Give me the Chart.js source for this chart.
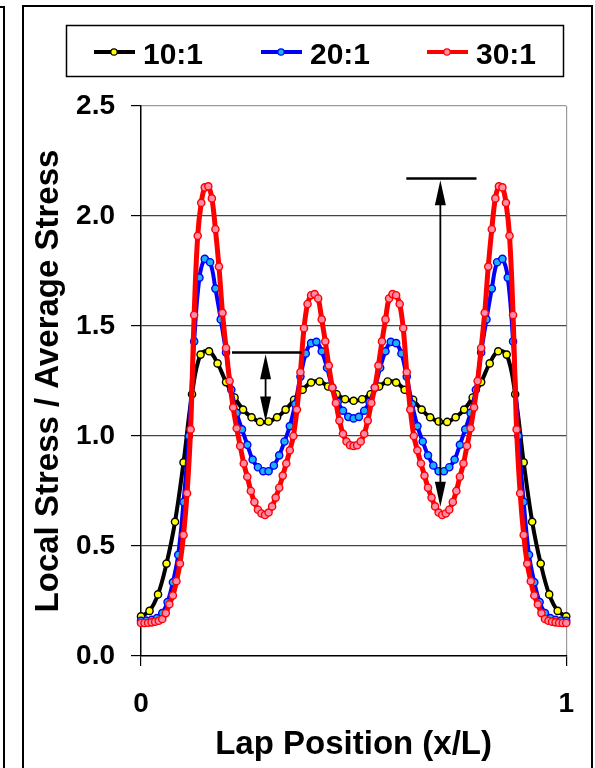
<!DOCTYPE html>
<html>
<head>
<meta charset="utf-8">
<title>Local Stress / Average Stress</title>
<script src="https://cdn.jsdelivr.net/npm/chart.js@4.4.1/dist/chart.umd.min.js"></script>
<style>
  html, body { margin: 0; padding: 0; background: #fff; }
  #wrap { position: relative; width: 595px; height: 768px; }
</style>
</head>
<body>
<div id="wrap"><canvas id="stressChart" width="595" height="768"></canvas></div>
<script>
// Series labels
const seriesLabels = ['10:1', '20:1', '30:1'];

// 10:1 overlap ratio, 51 evenly spaced points over x/L = 0..1
const ratio10 = [
    0.180, 0.205, 0.280, 0.420, 0.610, 0.880, 1.190, 1.370, 1.385, 1.330,
    1.245, 1.175, 1.120, 1.085, 1.064, 1.066, 1.085, 1.120, 1.165, 1.210,
    1.243, 1.248, 1.225, 1.190, 1.167, 1.160, 1.167, 1.190, 1.225, 1.248,
    1.243, 1.210, 1.165, 1.120, 1.085, 1.066, 1.064, 1.085, 1.120, 1.175,
    1.245, 1.330, 1.385, 1.370, 1.190, 0.880, 0.610, 0.420, 0.280, 0.205,
    0.180
];

// 20:1 overlap ratio, 81 evenly spaced points
const ratio20 = [
    0.160, 0.161, 0.164, 0.172, 0.195, 0.245, 0.335, 0.460, 0.700, 1.000,
    1.430, 1.720, 1.805, 1.790, 1.670, 1.530, 1.380, 1.210, 1.105, 1.030,
    0.960, 0.893, 0.858, 0.840, 0.840, 0.866, 0.912, 0.975, 1.045, 1.145,
    1.270, 1.375, 1.422, 1.428, 1.385, 1.310, 1.220, 1.155, 1.115, 1.087,
    1.080, 1.087, 1.115, 1.155, 1.220, 1.310, 1.385, 1.428, 1.422, 1.375,
    1.270, 1.145, 1.045, 0.975, 0.912, 0.866, 0.840, 0.840, 0.858, 0.893,
    0.960, 1.030, 1.105, 1.210, 1.380, 1.530, 1.670, 1.790, 1.805, 1.720,
    1.430, 1.000, 0.700, 0.460, 0.335, 0.245, 0.195, 0.172, 0.164, 0.161,
    0.160
];

// 30:1 overlap ratio, 121 evenly spaced points
const ratio30 = [
    0.150, 0.150, 0.151, 0.153, 0.156, 0.160, 0.168, 0.195, 0.235, 0.275,
    0.340, 0.420, 0.550, 0.740, 1.030, 1.550, 1.910, 2.060, 2.130, 2.135,
    2.080, 1.940, 1.770, 1.560, 1.400, 1.250, 1.130, 1.035, 0.955, 0.875,
    0.815, 0.750, 0.700, 0.665, 0.648, 0.641, 0.652, 0.680, 0.720, 0.765,
    0.820, 0.875, 0.935, 1.000, 1.120, 1.290, 1.490, 1.600, 1.640, 1.645,
    1.625, 1.530, 1.430, 1.320, 1.220, 1.150, 1.070, 1.010, 0.975, 0.958,
    0.955,
    0.958, 0.975, 1.010, 1.070, 1.150, 1.220, 1.320, 1.430, 1.530, 1.625,
    1.645, 1.640, 1.600, 1.490, 1.290, 1.120, 1.000, 0.935, 0.875, 0.820,
    0.765, 0.720, 0.680, 0.652, 0.641, 0.648, 0.665, 0.700, 0.750, 0.815,
    0.875, 0.955, 1.035, 1.130, 1.250, 1.400, 1.560, 1.770, 1.940, 2.080,
    2.135, 2.130, 2.060, 1.910, 1.550, 1.030, 0.740, 0.550, 0.420, 0.340,
    0.275, 0.235, 0.195, 0.168, 0.160, 0.156, 0.153, 0.151, 0.150, 0.150
];

// Axis ticks
const xTicks = [0, 1];
const yTicks = [0, 0.5, 1.0, 1.5, 2.0, 2.5];

// Dimension markers drawn on the plot (data units)
const dimLines = [
    { x1: 0.214, x2: 0.378, y: 1.38 },
    { x1: 0.624, x2: 0.789, y: 2.17 }
];
const dimArrows = [
    { x: 0.293, top: 1.372, bottom: 1.066 },
    { x: 0.704, top: 2.163, bottom: 0.678 }
];

const FONT = '"Liberation Sans", Arial, Helvetica, sans-serif';
Chart.defaults.font.family = FONT;
Chart.defaults.color = '#000';

// x/L for evenly spaced samples
function toPoints(arr) {
    return arr.map((v, i) => ({ x: i / (arr.length - 1), y: v }));
}

// White page, outer frame and the edge of the neighbouring frame
const framePlugin = {
    id: 'frame',
    beforeDraw(chart) {
        const ctx = chart.ctx;
        ctx.save();
        ctx.fillStyle = '#fff';
        ctx.fillRect(0, 0, chart.width, chart.height);
        ctx.strokeStyle = '#000';
        ctx.lineWidth = 2;
        ctx.strokeRect(23, 6, 569, 800);
        ctx.beginPath();
        ctx.moveTo(0, 7);
        ctx.lineTo(4, 7);
        ctx.lineTo(4, chart.height);
        ctx.stroke();
        ctx.restore();
    }
};

// Dimension lines with double-headed arrows
function arrowHead(ctx, x, tipY, dir) {
    // dir = 1 points up, -1 points down
    const len = 25, half = 5.5;
    ctx.beginPath();
    ctx.moveTo(x, tipY);
    ctx.lineTo(x - half, tipY + dir * len);
    ctx.lineTo(x + half, tipY + dir * len);
    ctx.closePath();
    ctx.fill();
}

const dimPlugin = {
    id: 'dims',
    afterDatasetsDraw(chart) {
        const ctx = chart.ctx;
        const xs = chart.scales.x, ys = chart.scales.y;
        ctx.save();
        ctx.strokeStyle = '#000';
        ctx.fillStyle = '#000';
        ctx.lineWidth = 2.5;
        dimLines.forEach(d => {
            const y = ys.getPixelForValue(d.y);
            ctx.beginPath();
            ctx.moveTo(xs.getPixelForValue(d.x1), y);
            ctx.lineTo(xs.getPixelForValue(d.x2), y);
            ctx.stroke();
        });
        ctx.lineWidth = 1.8;
        dimArrows.forEach(a => {
            const x = xs.getPixelForValue(a.x);
            const yt = ys.getPixelForValue(a.top);
            const yb = ys.getPixelForValue(a.bottom);
            ctx.beginPath();
            ctx.moveTo(x, yt + 10);
            ctx.lineTo(x, yb - 10);
            ctx.stroke();
            arrowHead(ctx, x, yt, 1);
            arrowHead(ctx, x, yb, -1);
        });
        ctx.restore();
    }
};

// Boxed legend across the top
const legendPlugin = {
    id: 'boxLegend',
    afterDraw(chart) {
        const ctx = chart.ctx;
        const starts = [94, 261, 427];
        ctx.save();
        ctx.fillStyle = '#fff';
        ctx.fillRect(66, 25, 497, 52);
        ctx.strokeStyle = '#000';
        ctx.lineWidth = 1.5;
        ctx.strokeRect(66.5, 25.5, 497, 51);
        ctx.font = 'bold 30px ' + FONT;
        ctx.textBaseline = 'alphabetic';
        ctx.textAlign = 'left';
        chart.data.datasets.forEach((ds, i) => {
            const x0 = starts[i], y = 52;
            ctx.strokeStyle = ds.borderColor;
            ctx.lineWidth = 4;
            ctx.beginPath();
            ctx.moveTo(x0, y);
            ctx.lineTo(x0 + 41, y);
            ctx.stroke();
            ctx.beginPath();
            ctx.arc(x0 + 20, y, 3.2, 0, Math.PI * 2);
            ctx.fillStyle = ds.pointBackgroundColor;
            ctx.fill();
            ctx.lineWidth = 1.2;
            ctx.strokeStyle = ds.pointBorderColor;
            ctx.stroke();
            ctx.fillStyle = '#000';
            ctx.fillText(ds.label, x0 + 49, 64);
        });
        ctx.restore();
    }
};

const ctx = document.getElementById('stressChart').getContext('2d');
const stressChart = new Chart(ctx, {
    type: 'line',
    data: {
        datasets: [{
            label: seriesLabels[0],
            data: toPoints(ratio10),
            borderColor: '#000000',
            borderWidth: 4,
            pointBackgroundColor: '#ffff00',
            pointBorderColor: '#000000',
            pointBorderWidth: 1.4,
            pointRadius: 3.6,
            tension: 0.4,
            clip: false,
            order: 3
        },
        {
            label: seriesLabels[1],
            data: toPoints(ratio20),
            borderColor: '#0000ff',
            borderWidth: 4,
            pointBackgroundColor: '#19b4f5',
            pointBorderColor: '#0000ff',
            pointBorderWidth: 1.4,
            pointRadius: 3.6,
            tension: 0.4,
            clip: false,
            order: 2
        },
        {
            label: seriesLabels[2],
            data: toPoints(ratio30),
            borderColor: '#ff0000',
            borderWidth: 5,
            pointBackgroundColor: '#ff8ca8',
            pointBorderColor: '#ff0000',
            pointBorderWidth: 1.4,
            pointRadius: 3.6,
            tension: 0.4,
            clip: false,
            order: 1
        }]
    },
    options: {
        responsive: false,
        animation: false,
        events: [],
        layout: {
            padding: { left: 25, right: 28, top: 106, bottom: 0 }
        },
        scales: {
            x: {
                type: 'linear',
                min: 0,
                max: 1,
                afterFit: s => { s.height = 112; },
                afterBuildTicks: s => { s.ticks = xTicks.map(v => ({ value: v })); },
                ticks: {
                    color: '#000',
                    padding: 21,
                    maxRotation: 0,
                    font: { size: 28, weight: 'bold' },
                    callback: v => String(v)
                },
                grid: {
                    color: c => (c.tick && c.tick.value === 0) ? 'rgba(0,0,0,0)' : '#9a9a9a',
                    tickColor: '#000',
                    tickLength: 10,
                    lineWidth: 1.2
                },
                border: { color: '#000', width: 1.5 },
                title: {
                    display: true,
                    text: 'Lap Position (x/L)',
                    color: '#000',
                    font: { size: 33, weight: 'bold' },
                    padding: { top: 0, bottom: 3 }
                }
            },
            y: {
                min: 0,
                max: 2.5,
                afterFit: s => { s.width = 116; },
                afterBuildTicks: s => { s.ticks = yTicks.map(v => ({ value: v })); },
                ticks: {
                    color: '#000',
                    padding: 16,
                    font: { size: 28, weight: 'bold' },
                    callback: v => v.toFixed(1)
                },
                grid: {
                    color: c => {
                        if (!c.tick) return '#444';
                        if (c.tick.value === 0) return 'rgba(0,0,0,0)';
                        return c.tick.value === 2.5 ? '#9a9a9a' : '#444';
                    },
                    tickColor: '#000',
                    tickLength: 10,
                    lineWidth: 1.2
                },
                border: { color: '#000', width: 1.5 },
                title: {
                    display: true,
                    text: 'Local Stress / Average Stress',
                    color: '#000',
                    font: { size: 33, weight: 'bold' },
                    padding: { top: 4, bottom: 0 }
                }
            }
        },
        plugins: {
            legend: { display: false },
            tooltip: { enabled: false }
        }
    },
    plugins: [framePlugin, dimPlugin, legendPlugin]
});
</script>
</body>
</html>
